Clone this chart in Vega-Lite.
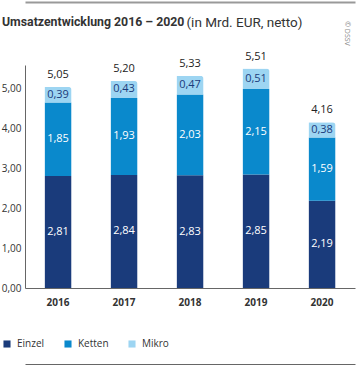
{
  "$schema": "https://vega.github.io/schema/vega-lite/v6.json",
  "width": 330,
  "height": 223,
  "autosize": {"type": "none"},
  "padding": {"left": 25, "top": 65, "right": 4, "bottom": 78},
  "background": "white",
  "config": {
    "locale": {"number": {"decimal": ",", "thousands": ".", "grouping": [3], "currency": ["", " €"]}},
    "view": {"stroke": null},
    "font": "Open Sans"
  },
  "title": {"text": "Umsatzentwicklung 2016 – 2020", "anchor": "start", "frame": "group", "dx": -23, "offset": -26, "font": "Roboto", "fontSize": 12.3, "fontWeight": "bold", "color": "#333333"},
  "datasets": {
    "seg": [
      {"year": "2016", "category": "Einzel", "ord": 1, "value": 2.81},
      {"year": "2016", "category": "Ketten", "ord": 2, "value": 1.85},
      {"year": "2016", "category": "Mikro", "ord": 3, "value": 0.39},
      {"year": "2017", "category": "Einzel", "ord": 1, "value": 2.84},
      {"year": "2017", "category": "Ketten", "ord": 2, "value": 1.93},
      {"year": "2017", "category": "Mikro", "ord": 3, "value": 0.43},
      {"year": "2018", "category": "Einzel", "ord": 1, "value": 2.83},
      {"year": "2018", "category": "Ketten", "ord": 2, "value": 2.03},
      {"year": "2018", "category": "Mikro", "ord": 3, "value": 0.47},
      {"year": "2019", "category": "Einzel", "ord": 1, "value": 2.85},
      {"year": "2019", "category": "Ketten", "ord": 2, "value": 2.15},
      {"year": "2019", "category": "Mikro", "ord": 3, "value": 0.51},
      {"year": "2020", "category": "Einzel", "ord": 1, "value": 2.19},
      {"year": "2020", "category": "Ketten", "ord": 2, "value": 1.59},
      {"year": "2020", "category": "Mikro", "ord": 3, "value": 0.38}
    ],
    "tot": [
      {"year": "2016", "total": 5.05},
      {"year": "2017", "total": 5.20},
      {"year": "2018", "total": 5.33},
      {"year": "2019", "total": 5.51},
      {"year": "2020", "total": 4.16}
    ]
  },
  "layer": [
    {
      "data": {"name": "seg"},
      "mark": {"type": "bar", "cornerRadiusTopRight": 3},
      "encoding": {
        "x": {"field": "year", "type": "ordinal",
          "scale": {"paddingInner": 0.59, "paddingOuter": 0.295},
          "axis": {"title": null, "labelAngle": 0, "ticks": false, "domainColor": "#666666", "labelFontWeight": "bold", "labelFontSize": 10, "labelColor": "#333333", "labelPadding": 9}},
        "y": {"field": "value", "type": "quantitative", "stack": "zero",
          "scale": {"domain": [0, 5.6], "nice": false},
          "axis": {"title": "(in Mrd. EUR, netto)", "titleAngle": 0, "titleAlign": "left", "titleBaseline": "alphabetic", "titleX": 161, "titleY": -39, "titleFont": "Roboto", "titleFontSize": 13.5, "titleFontWeight": "normal", "titleColor": "#333333",
            "values": [0, 1, 2, 3, 4, 5], "format": ".2f", "ticks": false, "grid": false, "domainColor": "#666666", "labelFontSize": 10, "labelColor": "#333333", "labelPadding": 4}},
        "color": {"field": "category", "type": "nominal",
          "scale": {"domain": ["Einzel", "Ketten", "Mikro"], "range": ["#1A3B7B", "#0A89CC", "#9DD5F2"]},
          "legend": {"title": null, "orient": "none", "direction": "horizontal", "legendX": -23, "legendY": 274, "symbolType": "square", "symbolSize": 50, "symbolStrokeWidth": 0, "labelFontSize": 10, "labelColor": "#333333", "columnPadding": 18, "labelOffset": 5, "padding": 0}},
        "order": {"field": "ord", "type": "quantitative"}
      }
    },
    {
      "data": {"name": "seg"},
      "mark": {"type": "text", "fontSize": 11, "baseline": "middle"},
      "encoding": {
        "x": {"field": "year", "type": "ordinal",
          "axis": {"orient": "top", "offset": 63, "labels": false, "ticks": false, "title": "© DSSV", "titleAngle": 90, "titleX": 321, "titleY": 31, "titleAlign": "center", "titleBaseline": "middle", "titleFontSize": 7, "titleFontWeight": "normal", "titleColor": "#888888", "domainColor": "#999999", "domainWidth": 2}},
        "y": {"field": "value", "type": "quantitative", "stack": "zero", "bandPosition": 0.5, "title": "(in Mrd. EUR, netto)"},
        "text": {"field": "value", "type": "quantitative", "format": ".2f"},
        "color": {"condition": {"test": "datum.category === 'Mikro'", "value": "#1A3B7B"}, "value": "white"},
        "order": {"field": "ord", "type": "quantitative"}
      }
    },
    {
      "data": {"name": "tot"},
      "mark": {"type": "text", "fontSize": 11, "baseline": "middle", "dy": -12, "color": "#222222"},
      "encoding": {
        "x": {"field": "year", "type": "ordinal",
          "axis": {"orient": "bottom", "offset": 76, "labels": false, "ticks": false, "title": null, "domainColor": "#666666", "domainWidth": 1}},
        "y": {"field": "total", "type": "quantitative", "title": "(in Mrd. EUR, netto)"},
        "text": {"field": "total", "type": "quantitative", "format": ".2f"}
      }
    }
  ],
  "resolve": {"axis": {"x": "independent"}}
}
